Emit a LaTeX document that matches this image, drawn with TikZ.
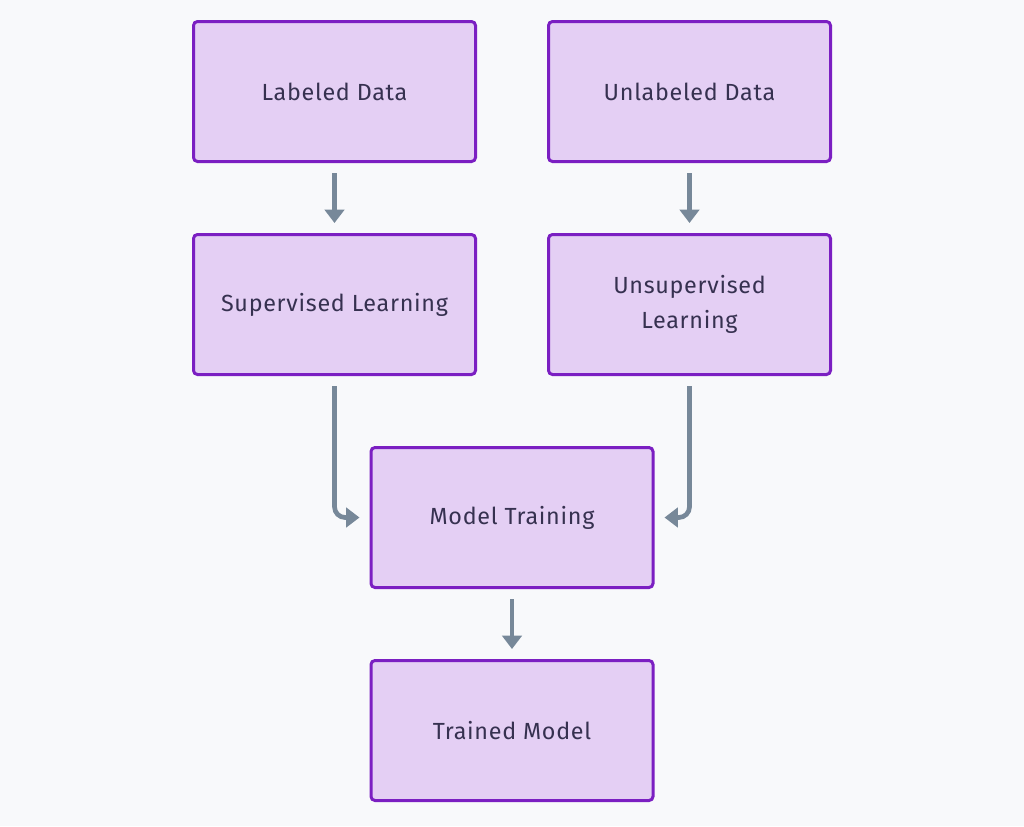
\documentclass[tikz,border=0pt]{standalone}
\usepackage{fontspec}
\setmainfont{Fira Sans}[LetterSpace=3]
\usetikzlibrary{positioning, arrows.meta}

\definecolor{boxfill}{HTML}{E4CFF4}
\definecolor{boxline}{HTML}{7B1FC2}
\definecolor{flow}{HTML}{778899}
\definecolor{txt}{HTML}{363150}
\definecolor{bg}{HTML}{F8F9FB}

\begin{document}
\begin{tikzpicture}[x=0.75pt,y=0.75pt,node distance=159.75pt,on grid,
  box/.style={draw=boxline,fill=boxfill,line width=2.25pt,rounded corners=3pt,
    minimum width=211.5pt,minimum height=105pt,align=center,text=txt,
    font=\fontsize{17.5pt}{26pt}\selectfont},
  flowarrow/.style={draw=flow,line width=3.5pt,
    -{Triangle[length=10pt,width=14.5pt]},shorten <=7.5pt,shorten >=7.5pt}]
    \fill[bg] (0,0) rectangle (1024,-826);
    \useasboundingbox (0,0) rectangle (1024,-826);
    \node[box] (lab) at (334.5,-91.5) {Labeled Data};
    \node[box] (unlab) [right=266.25pt of lab] {Unlabeled Data};
    \node[box] (sup) [below=of lab] {Supervised Learning};
    \node[box] (unsup) [below=of unlab] {Unsupervised\\Learning};
    \node[box] (train) [below right=159.75pt and 133.125pt of sup] {Model Training};
    \node[box] (model) [below=of train] {Trained Model};
    \path[flowarrow] (lab) -- (sup);
    \path[flowarrow] (unlab) -- (unsup);
    \path[flowarrow,rounded corners=8pt] (sup.south) |- (train.west);
    \path[flowarrow,rounded corners=8pt] (unsup.south) |- (train.east);
    \path[flowarrow] (train) -- (model);
\end{tikzpicture}
\end{document}
